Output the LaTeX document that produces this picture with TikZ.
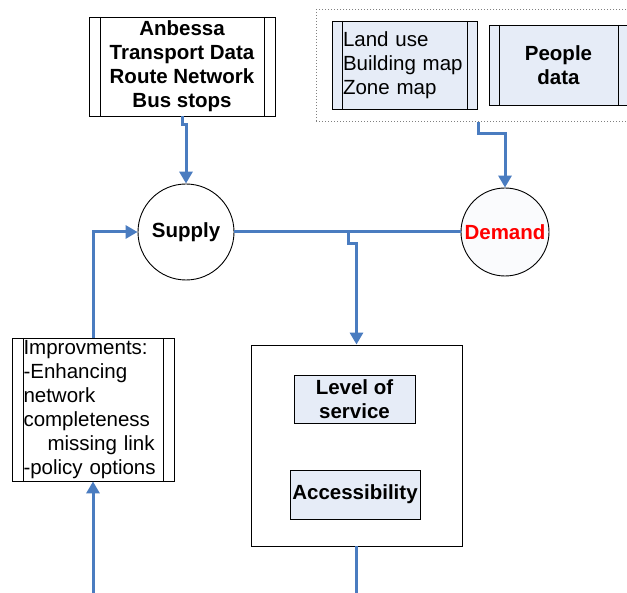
\documentclass[tikz,border=0pt]{standalone}
\usepackage{fontspec}
\setmainfont{Liberation Sans}
\usetikzlibrary{arrows.meta}
\definecolor{flowblue}{HTML}{4A7CC0}
\definecolor{paleblue}{HTML}{E6ECF7}
\definecolor{demandred}{HTML}{FF0000}
\definecolor{demandfill}{HTML}{FAFBFD}
\begin{document}
\begin{tikzpicture}[x=1pt,y=-1pt,
  every node/.style={font=\fontsize{20.5}{24}\selectfont},
  frame/.style={draw=black, line width=0.9pt, inner sep=0pt},
  procbox/.style={frame,
    path picture={\draw[line width=0.9pt]
      ([xshift=#1]path picture bounding box.north west) -- ([xshift=#1]path picture bounding box.south west)
      ([xshift=-#1]path picture bounding box.north east) -- ([xshift=-#1]path picture bounding box.south east);}},
  hub/.style={circle, draw=black, line width=0.9pt, inner sep=0pt, font=\fontsize{20.5}{24}\selectfont\bfseries},
  flow/.style={draw=flowblue, line width=3pt},
  arrowflow/.style={flow, -{Triangle[width=13pt,length=12pt]}}
]
\clip (0,0) rectangle (627,593);
\fill[white] (0,0) rectangle (627,593);

% data sources
\node[procbox=11pt, minimum width=186pt, minimum height=99pt, align=center,
      font=\fontsize{20.5}{24}\selectfont\bfseries] (anb) at (182,66.5)
  {Anbessa\\Transport Data\\Route Network\\Bus stops};

\node[draw=gray, line width=1pt, dash pattern=on 1pt off 2pt, minimum width=324pt,
      minimum height=112pt, inner sep=0pt] (group) at (478,66) {};
\node[procbox=10pt, fill=paleblue, minimum width=145pt, minimum height=88pt,
      text width=123pt, inner xsep=11pt, align=left] (landuse) at (404.5,65)
  {Land use\\Building map\\Zone map};
\node[procbox=10pt, fill=paleblue, minimum width=139pt, minimum height=80pt, align=center,
      font=\fontsize{20.5}{24}\selectfont\bfseries] (people) at (558.5,65)
  {People\\data};

% supply and demand
\node[hub, minimum size=96pt] (supply) at (186,232) {Supply};
\node[hub, minimum size=88pt, fill=demandfill, text=demandred] (demand) at (505,232) {Demand};

% evaluation block
\node[frame, minimum width=211pt, minimum height=201pt] (main) at (356.5,445.5) {};
\node[frame, fill=paleblue, minimum width=121pt, minimum height=48pt, align=center,
      font=\fontsize{20.5}{24}\selectfont\bfseries] (los) at (354.5,399) {Level of\\service};
\node[frame, fill=paleblue, minimum width=130pt, minimum height=49pt,
      font=\fontsize{20.5}{24}\selectfont\bfseries] (acc) at (355,494.5) {Accessibility};

% improvements
\node[procbox=11pt, minimum width=162pt, minimum height=143pt, text width=139pt,
      inner xsep=11.5pt, align=left] (improv) at (93,409.5)
  {Improvments:\\-Enhancing\\network\\completeness\\\hspace*{24pt}missing link\\-policy options};

% connectors
\coordinate (tap) at (348,232);
\draw[arrowflow] (anb.south) -- ++(0,8) -| (supply.north);
\draw[arrowflow] (group.south) -- ++(0,11) -| (demand.north);
\draw[flow] (supply.east) -- (demand.west);
\draw[arrowflow] (tap) -- ++(0,12) -| (main.north);
\draw[arrowflow] (main.south) -- ++(0,60) -| (improv.south);
\draw[arrowflow] (improv.north) |- (supply.west);
\end{tikzpicture}
\end{document}
